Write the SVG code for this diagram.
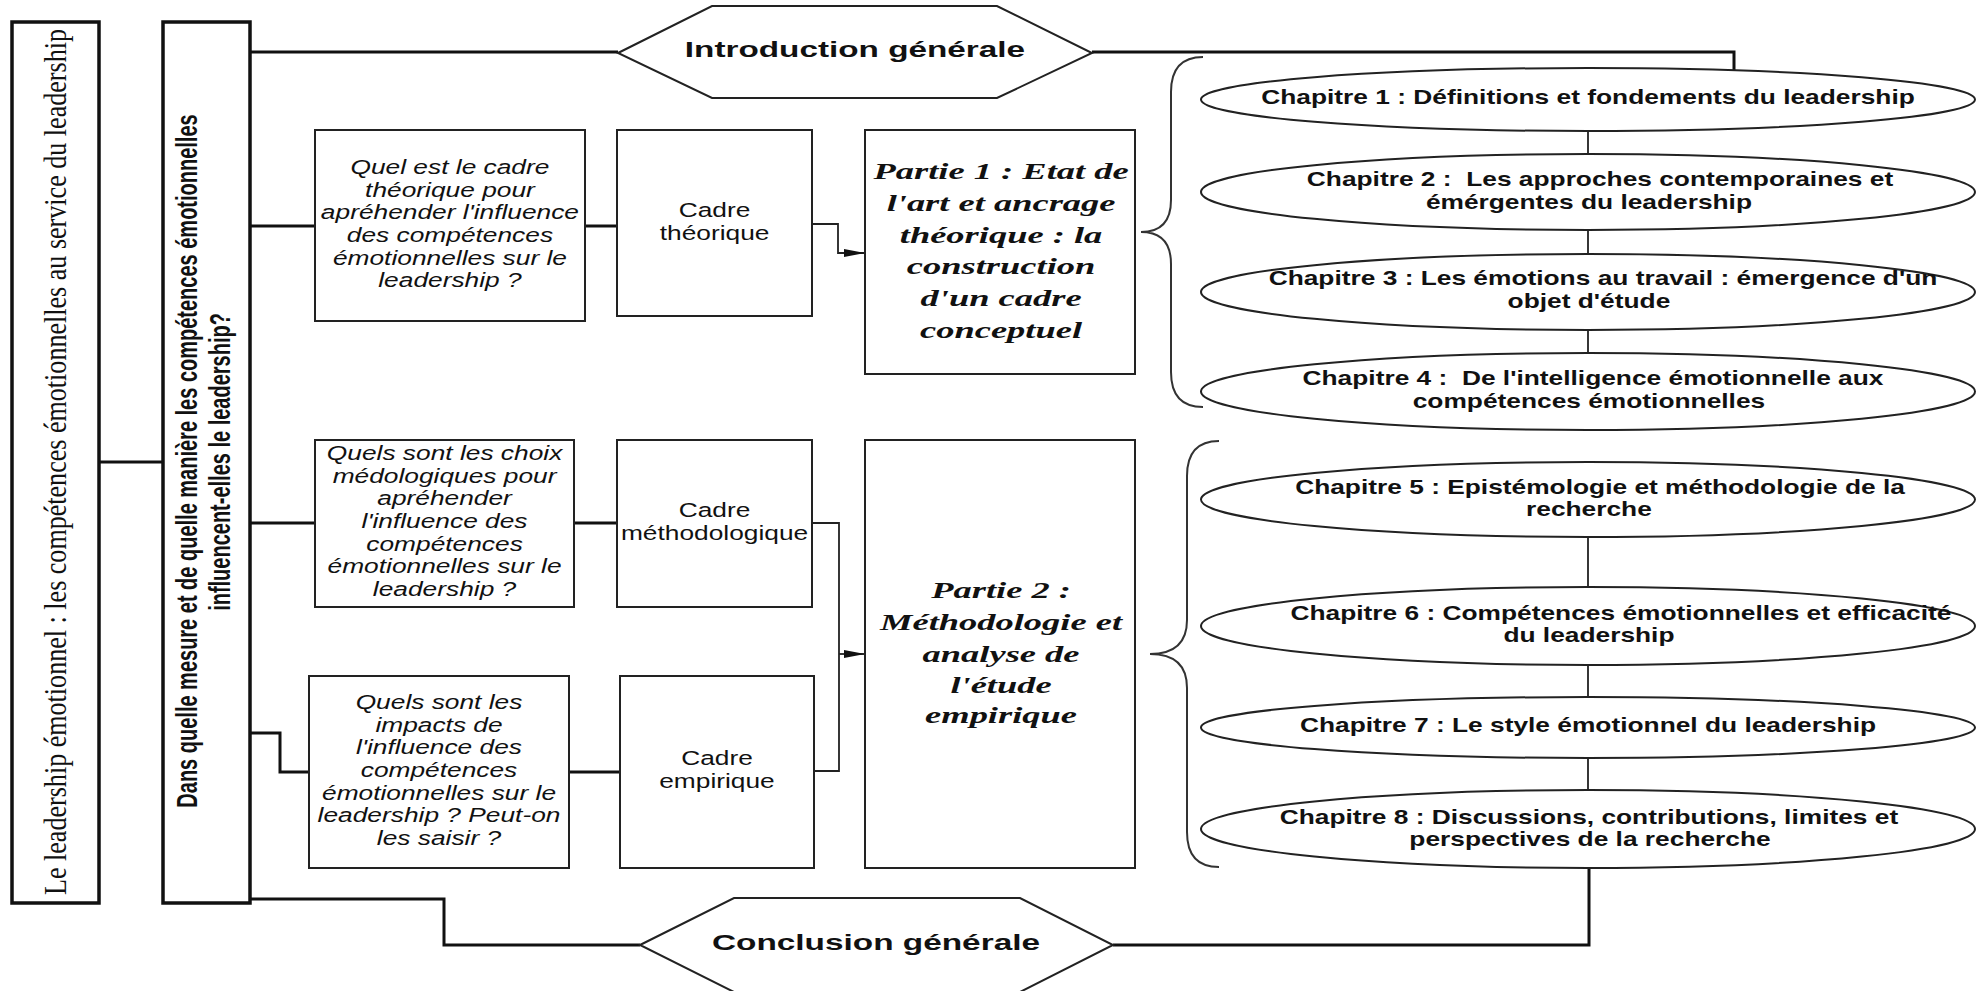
<svg xmlns="http://www.w3.org/2000/svg" width="1982" height="991" viewBox="0 0 1982 991">
<style>
.bg{fill:#ffffff}
.thick{fill:none;stroke:#111;stroke-width:3.5}
.box{fill:#fff;stroke:#222;stroke-width:2}
.shape{fill:#fff;stroke:#222;stroke-width:2}
.wire{fill:none;stroke:#111;stroke-width:3}
.thin{fill:none;stroke:#222;stroke-width:1.8}
.brace{fill:none;stroke:#333;stroke-width:2}
text{fill:#111}
.q{font-family:"Liberation Sans",Arial,sans-serif;font-style:italic;font-size:19.5px;text-anchor:middle}
.c{font-family:"Liberation Sans",Arial,sans-serif;font-size:19.5px;text-anchor:middle}
.p{font-family:"Liberation Serif","Times New Roman",serif;font-style:italic;font-weight:bold;font-size:24px;text-anchor:middle}
.h{font-family:"Liberation Sans",Arial,sans-serif;font-weight:bold;font-size:21.5px;text-anchor:middle}
.ch{font-family:"Liberation Sans",Arial,sans-serif;font-weight:bold;font-size:19.5px;text-anchor:middle;white-space:pre}
.v1{font-family:"Liberation Serif","Times New Roman",serif;font-size:26px;text-anchor:middle}
.v2{font-family:"Liberation Sans",Arial,sans-serif;font-weight:bold;font-size:20px;text-anchor:middle}
</style>
<defs>
<marker id="arr" markerUnits="userSpaceOnUse" markerWidth="22" markerHeight="10" refX="21" refY="5" orient="auto">
<path d="M0,1 L21,5 L0,9 z" fill="#111"/>
</marker>
</defs>
<rect class="bg" x="0" y="0" width="1982" height="991"/>

<g id="connectors">
<path class="wire" d="M99,462 H163"/>
<path class="wire" d="M250,52 H618"/>
<path class="wire" d="M1092,52 H1734 V70"/>
<path class="wire" d="M250,226 H315"/>
<path class="wire" d="M585,226 H617"/>
<path class="wire" d="M250,523 H315"/>
<path class="wire" d="M574,523 H617"/>
<path class="wire" d="M250,733 H280 V772 H309"/>
<path class="wire" d="M569,772 H620"/>
<path class="wire" d="M250,899 H444 V945 H640"/>
<path class="wire" d="M1113,945 H1589 V868"/>
<path class="thin" d="M812,224 H838 V253 H865" marker-end="url(#arr)"/>
<path class="thin" d="M812,523 H839 V771 H814"/>
<path class="thin" d="M839,654 H865" marker-end="url(#arr)"/>
<path class="thin" d="M1588,131 V154 M1588,230 V254 M1588,330 V353"/>
<path class="thin" d="M1588,537 V587 M1588,665 V697 M1588,758 V790"/>
<path class="brace" d="M1203,57 Q1171,57 1171,92 L1171,200 Q1171,232 1141,232 Q1171,232 1171,264 L1171,372 Q1171,407 1203,407"/>
<path class="brace" d="M1219,441 Q1187,441 1187,476 L1187,620 Q1187,654 1150,654 Q1187,654 1187,688 L1187,832 Q1187,867 1219,867"/>
</g>

<g id="title-box">
<rect class="thick" x="12" y="22" width="87" height="881"/>
<text class="v1" transform="translate(66,462) scale(1.2,1) rotate(-90)" textLength="866" lengthAdjust="spacingAndGlyphs">Le leadership émotionnel : les compétences émotionnelles au service du leadership</text>
</g>
<g id="question-box">
<rect class="thick" x="163" y="22" width="87" height="881"/>
<text class="v2" transform="translate(197,461) scale(1.5,1) rotate(-90)">Dans quelle mesure et de quelle manière les compétences émotionnelles</text>
<text class="v2" transform="translate(230,462) scale(1.5,1) rotate(-90)">influencent-elles le leadership?</text>
</g>
<g id="q1"><rect class="box" x="315" y="130" width="270" height="191"/></g>
<g id="q2"><rect class="box" x="315" y="440" width="259" height="167"/></g>
<g id="q3"><rect class="box" x="309" y="676" width="260" height="192"/></g>
<g id="cadre-theorique"><rect class="box" x="617" y="130" width="195" height="186"/></g>
<g id="cadre-methodologique"><rect class="box" x="617" y="440" width="195" height="167"/></g>
<g id="cadre-empirique"><rect class="box" x="620" y="676" width="194" height="192"/></g>
<g id="partie1"><rect class="box" x="865" y="130" width="270" height="244"/></g>
<g id="partie2"><rect class="box" x="865" y="440" width="270" height="428"/></g>
<g id="intro"><polygon class="shape" points="618,53 712,6 997,6 1092,53 997,98 712,98"/></g>
<g id="conclusion"><polygon class="shape" points="640,945 734,898 1020,898 1113,945 1020,992 734,992"/></g>
<g id="ch1"><ellipse class="shape" cx="1588" cy="99.5" rx="387" ry="31.5"/></g>
<g id="ch2"><ellipse class="shape" cx="1588" cy="192" rx="387" ry="38"/></g>
<g id="ch3"><ellipse class="shape" cx="1588" cy="292" rx="387" ry="38"/></g>
<g id="ch4"><ellipse class="shape" cx="1588" cy="391.5" rx="387" ry="38.5"/></g>
<g id="ch5"><ellipse class="shape" cx="1588" cy="499.5" rx="387" ry="37.5"/></g>
<g id="ch6"><ellipse class="shape" cx="1588" cy="626" rx="387" ry="39"/></g>
<g id="ch7"><ellipse class="shape" cx="1588" cy="727.5" rx="387" ry="30.5"/></g>
<g id="ch8"><ellipse class="shape" cx="1588" cy="829" rx="387" ry="39"/></g>

<g id="partie-labels" transform="scale(1.52,1)">
<text class="p" x="658.6" y="179">Partie 1 : Etat de</text>
<text class="p" x="658.6" y="211">l'art et ancrage</text>
<text class="p" x="658.6" y="243">théorique : la</text>
<text class="p" x="658.6" y="274">construction</text>
<text class="p" x="658.6" y="306">d'un cadre</text>
<text class="p" x="658.6" y="338">conceptuel</text>

<text class="p" x="658.6" y="598">Partie 2 :</text>
<text class="p" x="658.6" y="630">Méthodologie et</text>
<text class="p" x="658.6" y="662">analyse de</text>
<text class="p" x="658.6" y="693">l'étude</text>
<text class="p" x="658.6" y="723">empirique</text>
</g>

<g id="labels" transform="scale(1.35,1)">
<text class="q" x="333.3" y="174">Quel est le cadre</text>
<text class="q" x="333.3" y="196.7">théorique pour</text>
<text class="q" x="333.3" y="219.4">apréhender l'influence</text>
<text class="q" x="333.3" y="242.1">des compétences</text>
<text class="q" x="333.3" y="264.8">émotionnelles sur le</text>
<text class="q" x="333.3" y="287.5">leadership ?</text>

<text class="q" x="329.3" y="460">Quels sont les choix</text>
<text class="q" x="329.3" y="482.7">médologiques pour</text>
<text class="q" x="329.3" y="505.4">apréhender</text>
<text class="q" x="329.3" y="528.1">l'influence des</text>
<text class="q" x="329.3" y="550.8">compétences</text>
<text class="q" x="329.3" y="573.5">émotionnelles sur le</text>
<text class="q" x="329.3" y="596.2">leadership ?</text>

<text class="q" x="325.2" y="709">Quels sont les</text>
<text class="q" x="325.2" y="731.7">impacts de</text>
<text class="q" x="325.2" y="754.4">l'influence des</text>
<text class="q" x="325.2" y="777.1">compétences</text>
<text class="q" x="325.2" y="799.8">émotionnelles sur le</text>
<text class="q" x="325.2" y="822.5">leadership ? Peut-on</text>
<text class="q" x="325.2" y="845.2">les saisir ?</text>

<text class="c" x="529.3" y="217">Cadre</text>
<text class="c" x="529.3" y="239.7">théorique</text>
<text class="c" x="529.3" y="517">Cadre</text>
<text class="c" x="529.3" y="539.7">méthodologique</text>
<text class="c" x="531.1" y="765">Cadre</text>
<text class="c" x="531.1" y="787.7">empirique</text>

<text class="h" x="633.3" y="57.5" textLength="252" lengthAdjust="spacingAndGlyphs">Introduction générale</text>
<text class="h" x="648.9" y="950.5" textLength="243" lengthAdjust="spacingAndGlyphs">Conclusion générale</text>

<text class="ch" x="1176.3" y="104">Chapitre 1 : Définitions et fondements du leadership</text>
<text class="ch" x="1185.2" y="186">Chapitre 2 :  Les approches contemporaines et</text>
<text class="ch" x="1177" y="209">émérgentes du leadership</text>
<text class="ch" x="1187.4" y="285">Chapitre 3 : Les émotions au travail : émergence d'un</text>
<text class="ch" x="1177" y="308">objet d'étude</text>
<text class="ch" x="1180" y="385">Chapitre 4 :  De l'intelligence émotionnelle aux</text>
<text class="ch" x="1177" y="408">compétences émotionnelles</text>
<text class="ch" x="1185.2" y="494">Chapitre 5 : Epistémologie et méthodologie de la</text>
<text class="ch" x="1177" y="516.5">recherche</text>
<text class="ch" x="1200.7" y="620">Chapitre 6 : Compétences émotionnelles et efficacité</text>
<text class="ch" x="1177" y="642">du leadership</text>
<text class="ch" x="1176.3" y="732">Chapitre 7 : Le style émotionnel du leadership</text>
<text class="ch" x="1177" y="824">Chapitre 8 : Discussions, contributions, limites et</text>
<text class="ch" x="1177.8" y="846">perspectives de la recherche</text>
</g>
</svg>
